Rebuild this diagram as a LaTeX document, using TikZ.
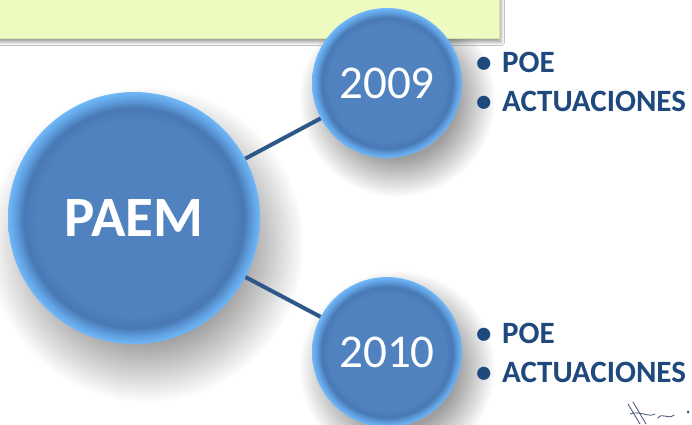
\documentclass[tikz,border=0pt]{standalone}
\usepackage{fontspec}
\setmainfont{Carlito}
\usetikzlibrary{shadows.blur,fadings}
\definecolor{ballblue}{RGB}{80,130,192}
\definecolor{balldark}{RGB}{72,120,180}
\definecolor{ballmid}{RGB}{96,160,225}
\definecolor{ballrim}{RGB}{112,184,248}
\definecolor{linkblue}{RGB}{46,88,138}
\definecolor{textblue}{RGB}{31,73,125}
\definecolor{bannerfill}{RGB}{238,251,192}
\definecolor{bannerline}{RGB}{214,232,160}
\definecolor{scribble}{RGB}{70,80,120}
\pgfdeclareradialshading{ballshade}{\pgfpoint{0bp}{0bp}}{color(0bp)=(ballblue); color(19.5bp)=(ballblue); color(21.8bp)=(balldark); color(23.6bp)=(ballmid); color(25bp)=(ballrim); color(50bp)=(ballrim)}
\pgfdeclareradialshading{softdiscshade}{\pgfpointorigin}{color(0bp)=(pgftransparent!0); color(15bp)=(pgftransparent!0); color(25bp)=(pgftransparent!100); color(50bp)=(pgftransparent!100)}
\pgfdeclarefading{softdisc}{\pgfuseshading{softdiscshade}}
\begin{document}
\begin{tikzpicture}[x=1pt,y=-1pt,
  ball/.style={circle, shading=ballshade, inner sep=0pt, text=white},
  bigball/.style={ball, minimum size=252pt, font=\bfseries\fontsize{57}{62}\selectfont},
  yearball/.style={ball, minimum size=150pt, font=\fontsize{47}{52}\selectfont},
  softshadow/.style={fill=black, fill opacity=0.38, path fading=softdisc},
  link/.style={draw=linkblue, line width=4pt},
  item/.style={anchor=base west, text=textblue, inner sep=0pt,
    font=\bfseries\fontsize{31}{36}\selectfont},
  bannerbox/.style={fill=bannerfill, draw=bannerline, line width=1pt, inner sep=0pt,
    blur shadow={shadow xshift=2pt, shadow yshift=-4pt, shadow blur radius=3pt, shadow opacity=35}},
  scrib/.style={draw=scribble, line width=0.8pt, line cap=round}]
\useasboundingbox (0,0) rectangle (692,424);
\fill[white] (0,0) rectangle (692,424);
% soft shadows of the circles
\fill[softshadow] (146,244) circle (158pt);
\fill[softshadow] (397,99) circle (98pt);
\fill[softshadow] (397,368) circle (98pt);
% banner
\node[bannerbox, minimum width=520pt, minimum height=60pt, anchor=south east] (banner) at (500,39) {};
% circles
\node[bigball] (paem) at (134,218) {PAEM};
\node[yearball] (y09) at (387,83) {2009};
\node[yearball] (y10) at (387,352) {2010};
% connectors
\draw[link] (paem) -- (y09);
\draw[link] (paem) -- (y10);
% bullet lists
\node[item] (p09) at (476,72) {\makebox[26pt][l]{•}POE};
\node[item] (a09) at (476,111) {\makebox[26pt][l]{•}ACTUACIONES};
\node[item] (p10) at (476,343) {\makebox[26pt][l]{•}POE};
\node[item] (a10) at (476,382) {\makebox[26pt][l]{•}ACTUACIONES};
% scribble at bottom right
\draw[scrib] (628,404) -- (640,424);
\draw[scrib] (633,402) -- (646,424);
\draw[scrib] (630,414) .. controls (640,410) and (648,418) .. (655,414);
\draw[scrib] (658,418) .. controls (662,412) and (668,420) .. (674,415);
\fill[scribble] (688,412) circle (1.5pt);
\end{tikzpicture}
\end{document}
